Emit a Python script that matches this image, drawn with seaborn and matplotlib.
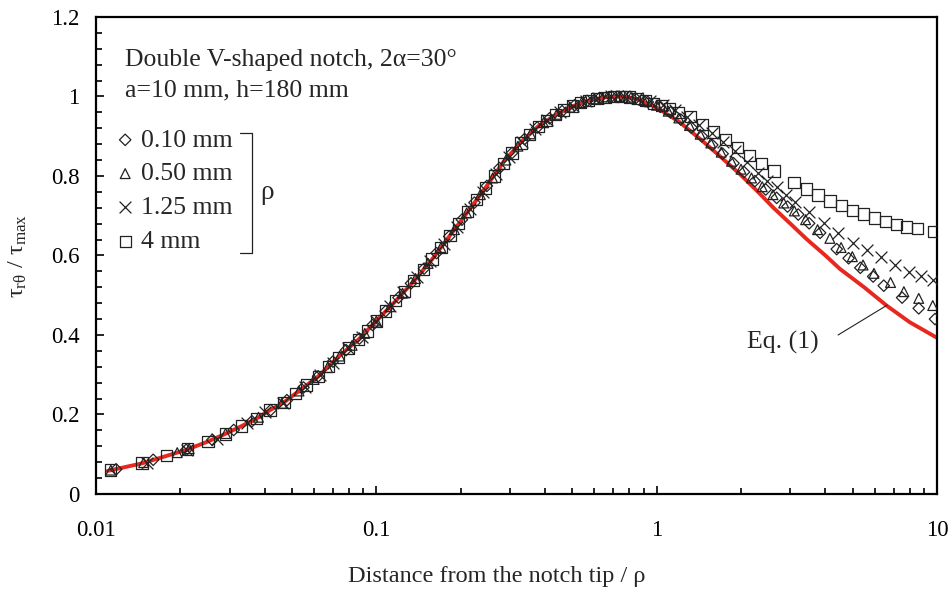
import numpy as np
import pandas as pd
import seaborn as sns
import matplotlib.pyplot as plt
from matplotlib import ticker

# ------------------------------------------------------------
# data
# ------------------------------------------------------------
# Eq. (1)
eq_x = [0.011, 0.0146, 0.0179, 0.0212, 0.0251, 0.0289, 0.0331, 0.0374, 0.0418,
        0.0469, 0.0516, 0.0565, 0.0621, 0.0674, 0.0731, 0.0795, 0.0862, 0.1,
        0.117, 0.136, 0.158, 0.183, 0.212, 0.245, 0.284, 0.328, 0.378, 0.435,
        0.5, 0.573, 0.655, 0.75, 0.855, 1.0, 1.2, 1.43, 1.65, 1.98, 2.3, 2.61,
        3.0, 3.43, 4.0, 4.51, 5.5, 6.64, 8.0, 10.0]
eq_y = [0.058, 0.077, 0.096, 0.112, 0.132, 0.151, 0.171, 0.190, 0.211,
        0.231, 0.253, 0.274, 0.296, 0.320, 0.344, 0.367, 0.388, 0.435,
        0.485, 0.535, 0.590, 0.650, 0.710, 0.770, 0.835, 0.885, 0.925, 0.953,
        0.975, 0.990, 0.998, 1.0, 0.993, 0.972, 0.937, 0.893, 0.855, 0.805,
        0.760, 0.720, 0.680, 0.641, 0.600, 0.566, 0.520, 0.473, 0.432, 0.393]

# rho = 0.10 mm
d_x = [0.0118, 0.016, 0.021, 0.026, 0.031, 0.036, 0.042, 0.048, 0.055, 0.062,
       0.07, 0.078, 0.087, 0.097, 0.108, 0.12, 0.133, 0.148, 0.164, 0.182,
       0.202, 0.224, 0.248, 0.275, 0.305, 0.338, 0.375, 0.415, 0.46, 0.51,
       0.565, 0.625, 0.69, 0.76, 0.84, 0.93, 1.03, 1.12, 1.22, 1.33, 1.45,
       1.58, 1.72, 1.88, 2.05, 2.24, 2.45, 2.68, 2.93, 3.2, 3.5, 3.83, 4.39,
       4.84, 5.33, 5.92, 6.46, 7.51, 8.61, 9.84]
d_y = [0.062, 0.086, 0.111, 0.136, 0.161, 0.183, 0.211, 0.236, 0.268, 0.296,
       0.333, 0.362, 0.391, 0.425, 0.46, 0.494, 0.53, 0.567, 0.606, 0.648,
       0.69, 0.733, 0.775, 0.82, 0.858, 0.893, 0.922, 0.945, 0.963, 0.978,
       0.989, 0.996, 1.0, 1.0, 0.995, 0.986, 0.974, 0.96, 0.942, 0.922, 0.9,
       0.878, 0.856, 0.832, 0.81, 0.787, 0.766, 0.745, 0.723, 0.703, 0.681,
       0.657, 0.616, 0.593, 0.569, 0.547, 0.524, 0.494, 0.467, 0.44]

# rho = 0.50 mm
t_x = [0.0113, 0.0148, 0.0195, 0.0215, 0.029, 0.038, 0.046, 0.053, 0.06,
       0.067, 0.074, 0.082, 0.091, 0.1, 0.112, 0.124, 0.138, 0.153, 0.17,
       0.19, 0.21, 0.235, 0.26, 0.29, 0.32, 0.355, 0.395, 0.44, 0.49, 0.54,
       0.6, 0.665, 0.735, 0.81, 0.9, 1.0, 1.1, 1.2, 1.31, 1.43, 1.56, 1.7,
       1.85, 2.0, 2.18, 2.38, 2.6, 2.84, 3.1, 3.4, 3.75, 4.15, 4.55, 4.99,
       5.45, 5.96, 6.83, 7.62, 8.61, 9.66]
t_y = [0.060, 0.079, 0.104, 0.114, 0.152, 0.193, 0.228, 0.259, 0.288,
       0.318, 0.347, 0.374, 0.404, 0.435, 0.471, 0.505, 0.542, 0.58, 0.62,
       0.665, 0.707, 0.753, 0.795, 0.84, 0.875, 0.906, 0.934, 0.955, 0.973,
       0.985, 0.994, 0.999, 1.0, 0.998, 0.99, 0.978, 0.963, 0.946, 0.927,
       0.905, 0.883, 0.86, 0.837, 0.817, 0.795, 0.773, 0.753, 0.732, 0.712,
       0.69, 0.665, 0.643, 0.62, 0.597, 0.576, 0.555, 0.532, 0.509, 0.492,
       0.474]

# rho = 1.25 mm
c_x = [0.0152, 0.0211, 0.027, 0.0345, 0.0401, 0.0466, 0.0557, 0.063, 0.0703,
       0.0795, 0.089, 0.1, 0.112, 0.125, 0.14, 0.156, 0.174, 0.194, 0.216,
       0.24, 0.267, 0.297, 0.33, 0.367, 0.408, 0.453, 0.503, 0.56, 0.62,
       0.69, 0.765, 0.85, 0.945, 1.05, 1.16, 1.28, 1.42, 1.57, 1.73, 1.9,
       2.1, 2.3, 2.48, 2.68, 2.9, 3.11, 3.5, 3.95, 4.45, 5.01, 5.61, 6.31,
       7.06, 7.92, 8.78, 9.66]
c_y = [0.079, 0.111, 0.138, 0.178, 0.205, 0.23, 0.27, 0.3, 0.33,
       0.367, 0.395, 0.435, 0.472, 0.508, 0.547, 0.586, 0.628, 0.672, 0.717,
       0.76, 0.805, 0.849, 0.886, 0.917, 0.942, 0.961, 0.976, 0.988, 0.995,
       1.0, 1.0, 0.997, 0.989, 0.978, 0.965, 0.948, 0.928, 0.907, 0.885,
       0.862, 0.835, 0.808, 0.788, 0.772, 0.752, 0.735, 0.71, 0.681, 0.657,
       0.631, 0.614, 0.595, 0.576, 0.559, 0.548, 0.538]

# rho = 4 mm
s_x = [0.0113, 0.0146, 0.0179, 0.0212, 0.0251, 0.0289, 0.0331, 0.0374,
       0.0418, 0.0469, 0.0516, 0.0565, 0.0621, 0.0674, 0.0731, 0.0795,
       0.0862, 0.093, 0.1, 0.108, 0.117, 0.126, 0.136, 0.147, 0.158, 0.17,
       0.183, 0.197, 0.212, 0.228, 0.245, 0.264, 0.284, 0.305, 0.328, 0.352,
       0.378, 0.405, 0.435, 0.466, 0.5, 0.535, 0.573, 0.613, 0.655, 0.7,
       0.75, 0.8, 0.855, 0.913, 0.975, 1.04, 1.11, 1.2, 1.32, 1.46, 1.6,
       1.76, 1.94, 2.15, 2.37, 2.62, 3.09, 3.42, 3.76, 4.15, 4.56, 5.0, 5.48,
       6.0, 6.56, 7.18, 7.8, 8.5, 9.75]
s_y = [0.060, 0.078, 0.096, 0.113, 0.132, 0.151, 0.171, 0.190,
       0.211, 0.231, 0.253, 0.274, 0.296, 0.320, 0.344, 0.367,
       0.388, 0.41, 0.435, 0.46, 0.486, 0.51, 0.537, 0.565, 0.591, 0.62,
       0.65, 0.68, 0.71, 0.74, 0.77, 0.80, 0.832, 0.858, 0.883, 0.904,
       0.924, 0.94, 0.954, 0.966, 0.976, 0.984, 0.99, 0.995, 0.998, 1.0,
       1.0, 0.999, 0.995, 0.99, 0.983, 0.978, 0.97, 0.96, 0.949, 0.93, 0.911,
       0.892, 0.872, 0.851, 0.832, 0.8125, 0.783, 0.767, 0.752, 0.737, 0.725,
       0.713, 0.704, 0.694, 0.685, 0.678, 0.672, 0.667, 0.660]

series = [
    ('0.10 mm', d_x, d_y, 'D', 34),
    ('0.50 mm', t_x, t_y, '^', 50),
    ('1.25 mm', c_x, c_y, 'x', 72),
    ('4 mm', s_x, s_y, 's', 66),
]

# ------------------------------------------------------------
# style
# ------------------------------------------------------------
sns.set_style('ticks')
plt.rcParams['font.family'] = ['Liberation Serif', 'DejaVu Serif']
plt.rcParams['mathtext.fontset'] = 'custom'
plt.rcParams['mathtext.rm'] = 'Liberation Serif'
plt.rcParams['mathtext.it'] = 'Liberation Serif:italic'
FS = 18.5
TICK_FS = 16.5
ink = '#222222'
red = '#e8281e'

fig = plt.figure(figsize=(9.52, 5.94), dpi=100)
ax = fig.add_axes([0.1008, 0.1684, 0.8834, 0.8030])

sns.lineplot(x=eq_x, y=eq_y, ax=ax, color=red, lw=2.8, zorder=2,
             estimator=None, sort=False)

handles = []
for label, xs, ys, mk, sz in series:
    sns.scatterplot(x=xs, y=ys, ax=ax, marker=mk, s=sz, color=ink,
                    linewidth=0.9, zorder=3, label=label, legend=False)
    coll = ax.collections[-1]
    if mk != 'x':
        coll.set_facecolor('none')
    coll.set_edgecolor(ink)
    handles.append(coll)

ax.set_xscale('log')
ax.set_xlim(0.01, 10)
ax.set_ylim(0, 1.2)
ax.yaxis.set_major_locator(ticker.MultipleLocator(0.2))
ax.yaxis.set_minor_locator(ticker.MultipleLocator(0.04))
ax.xaxis.set_major_formatter(ticker.FuncFormatter(lambda v, _: f'{v:g}'))
ax.yaxis.set_major_formatter(ticker.FuncFormatter(lambda v, _: f'{v:g}'))
ax.tick_params(axis='both', which='both', direction='in', width=1.2,
               colors='black', labelsize=TICK_FS, top=False, right=False)
ax.tick_params(axis='both', which='major', length=6)
ax.tick_params(axis='both', which='minor', length=4.5)
ax.tick_params(axis='x', which='major', pad=19)
ax.tick_params(axis='y', which='major', pad=12)
for sp in ax.spines.values():
    sp.set_linewidth(1.6)
    sp.set_color('black')

ax.set_xlabel('Distance from the notch tip / ρ', fontsize=17.5)
ax.xaxis.set_label_coords(0.476, -0.15)
ax.set_ylabel(r'τ$_{\mathrm{rθ}}$ / τ$_{\mathrm{max}}$', fontsize=17.5)
ax.yaxis.set_label_coords(-0.08, 0.5)

ax.text(0.0345, 0.91, 'Double V-shaped notch, 2α=30°', transform=ax.transAxes,
        fontsize=FS, va='center', ha='left')
ax.text(0.0345, 0.847, 'a=10 mm, h=180 mm', transform=ax.transAxes,
        fontsize=FS, va='center', ha='left')

ax.legend(handles=handles, labels=[s[0] for s in series], loc='upper left',
          bbox_to_anchor=(0.021, 0.766), frameon=False, fontsize=FS,
          handlelength=0.9, handletextpad=0.15, labelspacing=0.42,
          borderpad=0, borderaxespad=0, scatterpoints=1)

# bracket for rho
ax.plot([0.171, 0.1855, 0.1855, 0.171], [0.757, 0.757, 0.505, 0.505],
        transform=ax.transAxes, color=ink, lw=0.9)
ax.text(0.203, 0.633, 'ρ', transform=ax.transAxes, fontsize=FS + 1,
        ha='center', va='center')

# Eq. (1) callout
ax.annotate('', xy=(6.64, 0.475), xytext=(4.44, 0.40),
            arrowprops=dict(arrowstyle='-', color=ink, lw=0.8,
                            shrinkA=0, shrinkB=0))
ax.text(2.82, 0.382, 'Eq. (1)', fontsize=FS, ha='center', va='center')

fig.savefig('out.png', dpi=100)
